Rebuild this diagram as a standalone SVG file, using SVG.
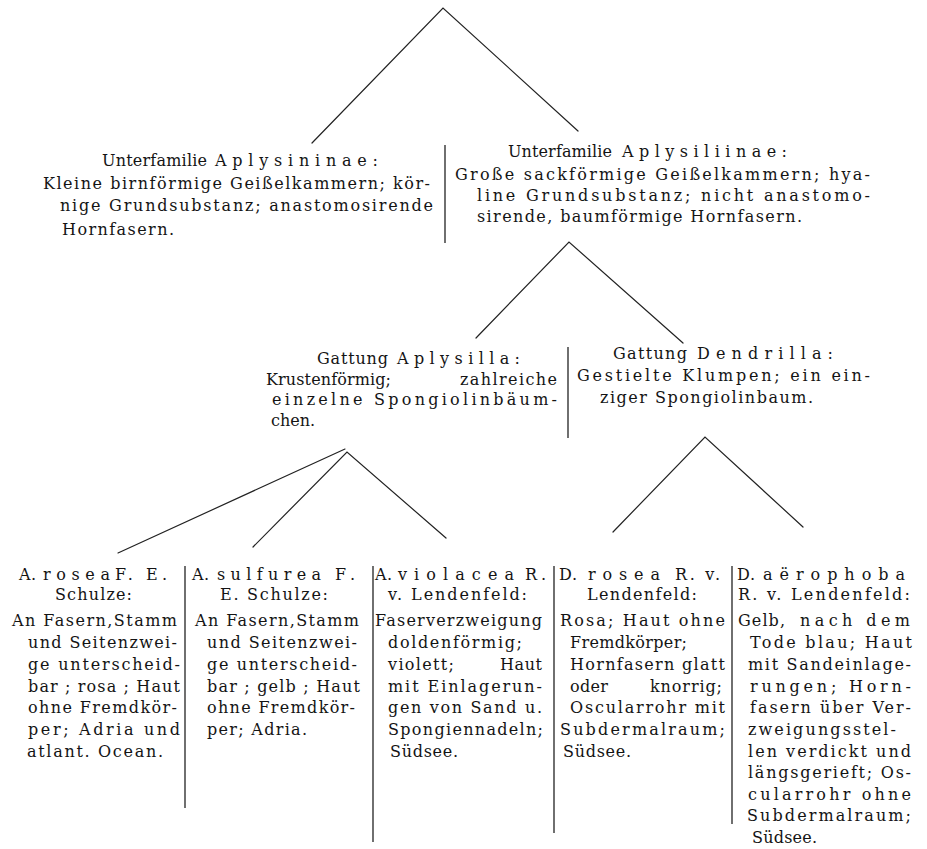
<svg xmlns="http://www.w3.org/2000/svg" width="927" height="849" viewBox="0 0 927 849">
<style>
text{font-family:"DejaVu Serif","Liberation Serif",serif;font-size:16px;fill:#141414}
.ln{stroke:#222;stroke-width:1.2;fill:none;stroke-linecap:round}
.sep{stroke:#222;stroke-width:1.3;fill:none}
</style>
<rect width="927" height="849" fill="#fff"/>
<g id="connectors">
<polyline class="ln" points="312,143 443,8 578,131"/>
<polyline class="ln" points="476,338 569,242 683,343"/>
<polyline class="ln" points="118,553 345,449"/>
<polyline class="ln" points="253,547 347,452 446,538"/>
<polyline class="ln" points="613,532 705,437 803,527"/>
</g>
<g id="separators">
<line class="sep" x1="445" y1="145" x2="445" y2="243"/>
<line class="sep" x1="568" y1="347" x2="568" y2="438"/>
<line class="sep" x1="185" y1="566" x2="185" y2="808"/>
<line class="sep" x1="373" y1="566" x2="373" y2="842"/>
<line class="sep" x1="554" y1="566" x2="554" y2="833"/>
<line class="sep" x1="732" y1="566" x2="732" y2="824"/>
</g>
<g id="aplysininae">
<text x="102" y="166" textLength="105" lengthAdjust="spacing">Unterfamilie</text>
<text x="215" y="166" textLength="163" lengthAdjust="spacing">Aplysininae:</text>
<text x="43" y="189" textLength="387" lengthAdjust="spacing">Kleine birnförmige Geißelkammern; kör-</text>
<text x="60" y="211" textLength="373" lengthAdjust="spacing">nige Grundsubstanz; anastomosirende</text>
<text x="62" y="235" textLength="112" lengthAdjust="spacing">Hornfasern.</text>
</g>
<g id="aplysiliinae">
<text x="508" y="157" textLength="104" lengthAdjust="spacing">Unterfamilie</text>
<text x="622" y="157" textLength="165" lengthAdjust="spacing">Aplysiliinae:</text>
<text x="455" y="180" textLength="415" lengthAdjust="spacing">Große sackförmige Geißelkammern; hya-</text>
<text x="477" y="201" textLength="393" lengthAdjust="spacing">line Grundsubstanz; nicht anastomo-</text>
<text x="477" y="222" textLength="325" lengthAdjust="spacing">sirende, baumförmige Hornfasern.</text>
</g>
<g id="aplysilla">
<text x="317" y="364" textLength="71" lengthAdjust="spacing">Gattung</text>
<text x="397" y="364" textLength="123" lengthAdjust="spacing">Aplysilla:</text>
<text x="266" y="385" textLength="125" lengthAdjust="spacing">Krustenförmig;</text>
<text x="460" y="385" textLength="97" lengthAdjust="spacing">zahlreiche</text>
<text x="272" y="405" textLength="285" lengthAdjust="spacing">einzelne Spongiolinbäum-</text>
<text x="271" y="426">chen.</text>
</g>
<g id="dendrilla">
<text x="613" y="359" textLength="74" lengthAdjust="spacing">Gattung</text>
<text x="697" y="359" textLength="136" lengthAdjust="spacing">Dendrilla:</text>
<text x="577" y="381" textLength="293" lengthAdjust="spacing">Gestielte Klumpen; ein ein-</text>
<text x="600" y="403" textLength="213" lengthAdjust="spacing">ziger Spongiolinbaum.</text>
</g>
<g id="a-rosea">
<text x="19" y="580" textLength="17" lengthAdjust="spacing">A.</text>
<text x="43" y="580" textLength="67" lengthAdjust="spacing">rosea</text>
<text x="115" y="580" textLength="52" lengthAdjust="spacing">F. E.</text>
<text x="55" y="600" textLength="77" lengthAdjust="spacing">Schulze:</text>
<text x="12" y="626" textLength="165" lengthAdjust="spacing">An Fasern,Stamm</text>
<text x="28" y="648" textLength="149" lengthAdjust="spacing">und Seitenzwei-</text>
<text x="28" y="670" textLength="152" lengthAdjust="spacing">ge unterscheid-</text>
<text x="28" y="692" textLength="152" lengthAdjust="spacing">bar ; rosa ; Haut</text>
<text x="28" y="713" textLength="149" lengthAdjust="spacing">ohne Fremdkör-</text>
<text x="28" y="735" textLength="152" lengthAdjust="spacing">per; Adria und</text>
<text x="27" y="757" textLength="136" lengthAdjust="spacing">atlant. Ocean.</text>
</g>
<g id="a-sulfurea">
<text x="192" y="580" textLength="17" lengthAdjust="spacing">A.</text>
<text x="217" y="580" textLength="104" lengthAdjust="spacing">sulfurea</text>
<text x="335" y="580" textLength="20" lengthAdjust="spacing">F.</text>
<text x="220" y="600" textLength="108" lengthAdjust="spacing">E. Schulze:</text>
<text x="195" y="626" textLength="164" lengthAdjust="spacing">An Fasern,Stamm</text>
<text x="207" y="648" textLength="150" lengthAdjust="spacing">und Seitenzwei-</text>
<text x="207" y="670" textLength="150" lengthAdjust="spacing">ge unterscheid-</text>
<text x="207" y="692" textLength="153" lengthAdjust="spacing">bar ; gelb ; Haut</text>
<text x="207" y="713" textLength="148" lengthAdjust="spacing">ohne Fremdkör-</text>
<text x="207" y="735" textLength="100" lengthAdjust="spacing">per; Adria.</text>
</g>
<g id="a-violacea">
<text x="375" y="580" textLength="17" lengthAdjust="spacing">A.</text>
<text x="398" y="580" textLength="116" lengthAdjust="spacing">violacea</text>
<text x="525" y="580" textLength="21" lengthAdjust="spacing">R.</text>
<text x="388" y="600" textLength="139" lengthAdjust="spacing">v. Lendenfeld:</text>
<text x="375" y="626" textLength="167" lengthAdjust="spacing">Faserverzweigung</text>
<text x="388" y="648" textLength="134" lengthAdjust="spacing">doldenförmig;</text>
<text x="388" y="670" textLength="66" lengthAdjust="spacing">violett;</text>
<text x="500" y="670" textLength="42" lengthAdjust="spacing">Haut</text>
<text x="388" y="692" textLength="154" lengthAdjust="spacing">mit Einlagerun-</text>
<text x="388" y="713" textLength="154" lengthAdjust="spacing">gen von Sand u.</text>
<text x="388" y="735" textLength="155" lengthAdjust="spacing">Spongiennadeln;</text>
<text x="390" y="757" textLength="68" lengthAdjust="spacing">Südsee.</text>
</g>
<g id="d-rosea">
<text x="559" y="580" textLength="18" lengthAdjust="spacing">D.</text>
<text x="588" y="580" textLength="72" lengthAdjust="spacing">rosea</text>
<text x="675" y="580" textLength="45" lengthAdjust="spacing">R. v.</text>
<text x="587" y="600" textLength="110" lengthAdjust="spacing">Lendenfeld:</text>
<text x="560" y="626" textLength="165" lengthAdjust="spacing">Rosa; Haut ohne</text>
<text x="570" y="648" textLength="117" lengthAdjust="spacing">Fremdkörper;</text>
<text x="570" y="670" textLength="155" lengthAdjust="spacing">Hornfasern glatt</text>
<text x="570" y="692" textLength="38" lengthAdjust="spacing">oder</text>
<text x="650" y="692" textLength="72" lengthAdjust="spacing">knorrig;</text>
<text x="570" y="713" textLength="155" lengthAdjust="spacing">Oscularrohr mit</text>
<text x="560" y="735" textLength="165" lengthAdjust="spacing">Subdermalraum;</text>
<text x="563" y="757" textLength="68" lengthAdjust="spacing">Südsee.</text>
</g>
<g id="d-aerophoba">
<text x="737" y="580" textLength="18" lengthAdjust="spacing">D.</text>
<text x="763" y="580" textLength="142" lengthAdjust="spacing">aërophoba</text>
<text x="738" y="600" textLength="172" lengthAdjust="spacing">R. v. Lendenfeld:</text>
<text x="738" y="626" textLength="47" lengthAdjust="spacing">Gelb,</text>
<text x="800" y="626" textLength="110" lengthAdjust="spacing">nach dem</text>
<text x="750" y="648" textLength="162" lengthAdjust="spacing">Tode blau; Haut</text>
<text x="748" y="670" textLength="163" lengthAdjust="spacing">mit Sandeinlage-</text>
<text x="750" y="692" textLength="161" lengthAdjust="spacing">rungen; Horn-</text>
<text x="750" y="713" textLength="161" lengthAdjust="spacing">fasern über Ver-</text>
<text x="748" y="735" textLength="148" lengthAdjust="spacing">zweigungsstel-</text>
<text x="748" y="757" textLength="163" lengthAdjust="spacing">len verdickt und</text>
<text x="748" y="778" textLength="163" lengthAdjust="spacing">längsgerieft; Os-</text>
<text x="748" y="800" textLength="163" lengthAdjust="spacing">cularrohr ohne</text>
<text x="747" y="821" textLength="164" lengthAdjust="spacing">Subdermalraum;</text>
<text x="752" y="843" textLength="65" lengthAdjust="spacing">Südsee.</text>
</g>
</svg>
